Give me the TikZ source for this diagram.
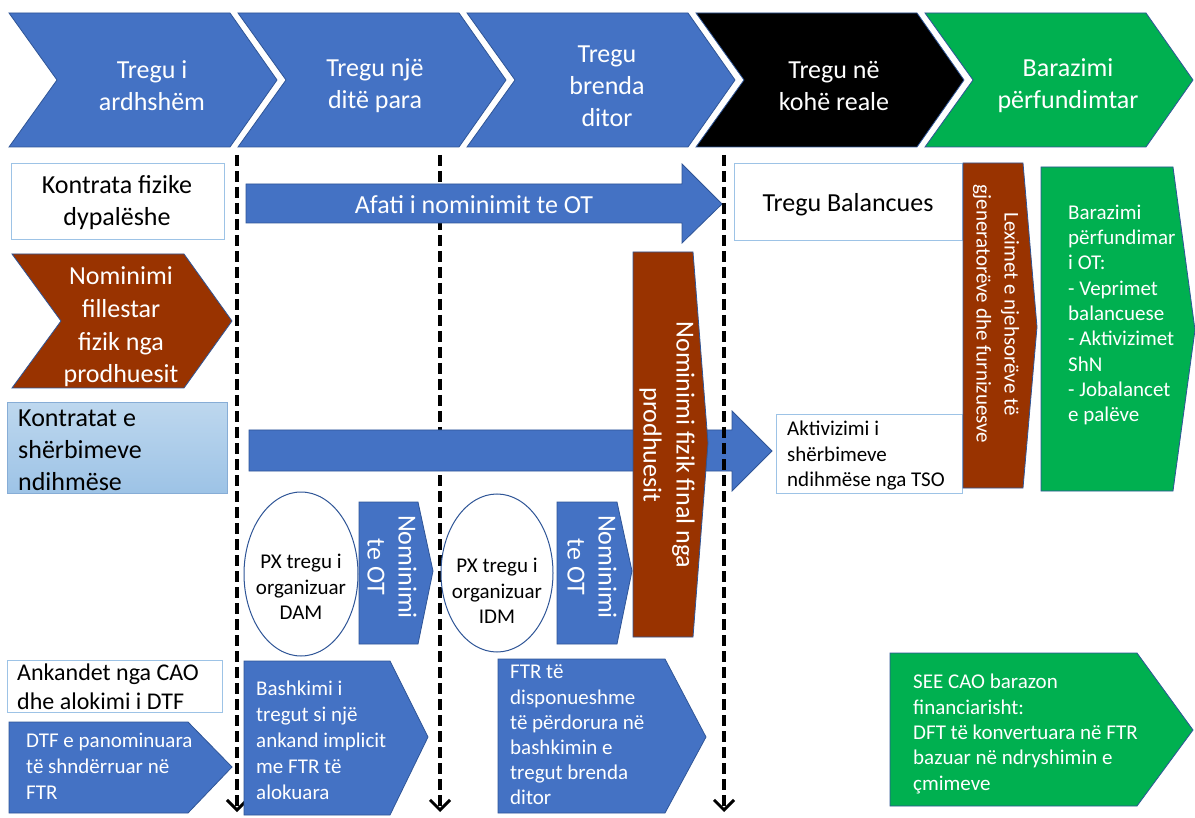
\documentclass[tikz,border=0pt]{standalone}
\usepackage{fontspec}
\setmainfont{Carlito}
\usetikzlibrary{arrows.meta}
\definecolor{obl}{HTML}{4472C4}
\definecolor{oline}{HTML}{2F5597}
\definecolor{brn}{HTML}{993300}
\definecolor{grn}{HTML}{00B050}
\definecolor{lbl}{HTML}{9DC3E6}
\definecolor{lbltop}{HTML}{BDD7EE}
\newcommand\fsBig{\fontsize{26}{32}\selectfont}
\newcommand\fsMid{\fontsize{24}{29}\selectfont}
\newcommand\fsSmall{\fontsize{21}{25.5}\selectfont}
\begin{document}
\begin{tikzpicture}[x=1pt,y=-1pt,
  shp/.style={draw=oline,line width=0.8pt},
  bluesh/.style={shp,fill=obl},
  brownsh/.style={shp,fill=brn},
  greensh/.style={shp,fill=grn},
  blacksh/.style={shp,fill=black},
  wbox/.style={draw=lbl,line width=1pt,fill=white},
  wtxt/.style={inner sep=0pt,text=white,align=center},
  btxt/.style={inner sep=0pt,text=black,align=center},
  wltxt/.style={inner sep=0pt,text=white,align=left,anchor=west},
  bltxt/.style={inner sep=0pt,text=black,align=left,anchor=west},
  dline/.style={line width=3.3pt,dash pattern=on 11pt off 5pt,-{Straight Barb[length=10pt,width=20pt,line width=3pt]}},
  ell/.style={draw=oline,line width=1pt,fill=white}
]
\useasboundingbox (0,0) rectangle (1195,818);
\fill[white] (0,0) rectangle (1195,818);

% dashed time lines (first two behind the shapes)
\coordinate (t1) at (237,155); \coordinate (b1) at (237,812);
\coordinate (t2) at (440,155); \coordinate (b2) at (440,812);
\coordinate (t3) at (724,155); \coordinate (b3) at (724,812);
\draw[dline] (t1) -- (b1);
\draw[dline] (t2) -- (b2);

% top chevrons
\draw[bluesh] (9,13) -- (230,13) -- (277,80) -- (230,147) -- (9,147) -- (57,80) -- cycle;
\node[wtxt,font=\fsBig] (c1) at (152,86) {Tregu i\\ardhshëm};
\draw[bluesh] (238,13) -- (459,13) -- (506,80) -- (459,147) -- (238,147) -- (286,80) -- cycle;
\node[wtxt,font=\fsBig] (c2) at (375,86) {Tregu një\\ditë para};
\draw[bluesh] (467,13) -- (688,13) -- (735,80) -- (688,147) -- (467,147) -- (515,80) -- cycle;
\node[wtxt,font=\fsBig] (c3) at (607,86) {Tregu\\brenda\\ditor};
\draw[blacksh] (696,13) -- (917,13) -- (964,80) -- (917,147) -- (696,147) -- (744,80) -- cycle;
\node[wtxt,font=\fsBig] (c4) at (834,86) {Tregu në\\kohë reale};
\draw[greensh] (925,13) -- (1146,13) -- (1193,80) -- (1146,147) -- (925,147) -- (973,80) -- cycle;
\node[wtxt,font=\fsBig] (c5) at (1068,86) {Barazimi\\përfundimtar};

% left column
\draw[wbox] (11,164) rectangle (224,240);
\node[btxt,font=\fsBig] (kf) at (117,203) {Kontrata fizike\\dypalëshe};
\draw[brownsh] (12,254) -- (184,254) -- (232,321) -- (184,388) -- (12,388) -- (61,321) -- cycle;
\node[wtxt,font=\fontsize{26}{32.6}\selectfont] (nf) at (121,327) {Nominimi\\fillestar\\fizik nga\\prodhuesit};
\draw[draw=lbl!80!oline,line width=1pt,top color=lbltop,bottom color=lbl] (7,403) rectangle (227,493);
\node[bltxt,font=\fsBig] (ks) at (18,450) {Kontratat e\\shërbimeve\\ndihmëse};

% arrows
\draw[bluesh] (246,184) -- (682,184) -- (682,164) -- (722,204) -- (682,243) -- (682,223) -- (246,223) -- cycle;
\node[wtxt,font=\fsBig] (af) at (474,205) {Afati i nominimit te OT};
\draw[bluesh] (249,430) -- (732,430) -- (732,411) -- (772,451) -- (732,491) -- (732,471) -- (249,471) -- cycle;

% final physical nomination
\draw[brownsh] (633,252) -- (693,252) -- (708,443) -- (693,637) -- (633,637) -- cycle;
\node[wtxt,rotate=-90,font=\fontsize{26}{33}\selectfont] (nff) at (667,445) {Nominimi fizik final nga\\prodhuesit};

% dashed line 3 in front
\draw[dline] (t3) -- (b3);

% right side
\draw[wbox] (734,164) rectangle (962,241);
\node[btxt,font=\fsBig] (tb) at (848,205) {Tregu Balancues};
\draw[wbox] (776,415) rectangle (962,493);
\node[bltxt,font=\fsSmall] (ak) at (787,456) {Aktivizimi i\\shërbimeve\\ndihmëse nga TSO};
\draw[brownsh] (963,163) -- (1023,163) -- (1037,327) -- (1023,488) -- (963,488) -- cycle;
\node[wtxt,rotate=-90,font=\fontsize{21}{28}\selectfont] (lx) at (996,314) {Leximet e njehsorëve të\\gjeneratorëve dhe furnizuesve};
\draw[greensh] (1041,167) -- (1173,167) -- (1195,330) -- (1173,491) -- (1041,491) -- cycle;
\node[wltxt,font=\fontsize{21}{25.3}\selectfont] (bp) at (1068,315) {Barazimi\\përfundimar\\i OT:\\- Veprimet\\balancuese\\- Aktivizimet\\ShN\\- Jobalancet\\e palëve};

% PX ellipses and OT nominations
\draw[ell] (301,574) ellipse [x radius=57, y radius=82];
\node[btxt,font=\fsSmall] (px1) at (301,587) {PX tregu i\\organizuar\\DAM};
\draw[ell] (497,573) ellipse [x radius=56, y radius=79];
\node[btxt,font=\fsSmall] (px2) at (497,591) {PX tregu i\\organizuar\\IDM};
\draw[bluesh] (359,502) -- (418,502) -- (433,571) -- (418,644) -- (359,644) -- cycle;
\node[wtxt,rotate=-90,font=\fontsize{26}{31}\selectfont] (n1) at (392,567) {Nominimi\\te OT};
\draw[bluesh] (557,502) -- (617,502) -- (632,571) -- (617,644) -- (557,644) -- cycle;
\node[wtxt,rotate=-90,font=\fontsize{26}{31}\selectfont] (n2) at (592,567) {Nominimi\\te OT};

% bottom row
\draw[wbox] (7,660) rectangle (222,712);
\node[bltxt,font=\fsMid] (an) at (17,687) {Ankandet nga CAO\\dhe alokimi i DTF};
\draw[bluesh] (9,722) -- (188,722) -- (232,767) -- (188,813) -- (9,813) -- cycle;
\node[wltxt,font=\fontsize{21}{26}\selectfont] (dtf) at (26,766) {DTF e panominuara\\të shndërruar në\\FTR};
\draw[bluesh] (244,661) -- (390,661) -- (428,737) -- (390,815) -- (244,815) -- cycle;
\node[wltxt,font=\fontsize{21}{26}\selectfont] (bs) at (256,740) {Bashkimi i\\tregut si një\\ankand implicit\\me FTR të\\alokuara};
\draw[bluesh] (498,659) -- (665,659) -- (706,737) -- (665,813) -- (498,813) -- cycle;
\node[wltxt,font=\fontsize{21}{25.2}\selectfont] (ftr) at (510,735) {FTR të\\disponueshme\\të përdorura në\\bashkimin e\\tregut brenda\\ditor};
\draw[greensh] (890,653) -- (1137,653) -- (1193,730) -- (1137,806) -- (890,806) -- cycle;
\node[wltxt,font=\fontsize{21}{25.3}\selectfont] (see) at (913,734) {SEE CAO barazon\\financiarisht:\\DFT të konvertuara në FTR\\bazuar në ndryshimin e\\çmimeve};
\end{tikzpicture}
\end{document}
